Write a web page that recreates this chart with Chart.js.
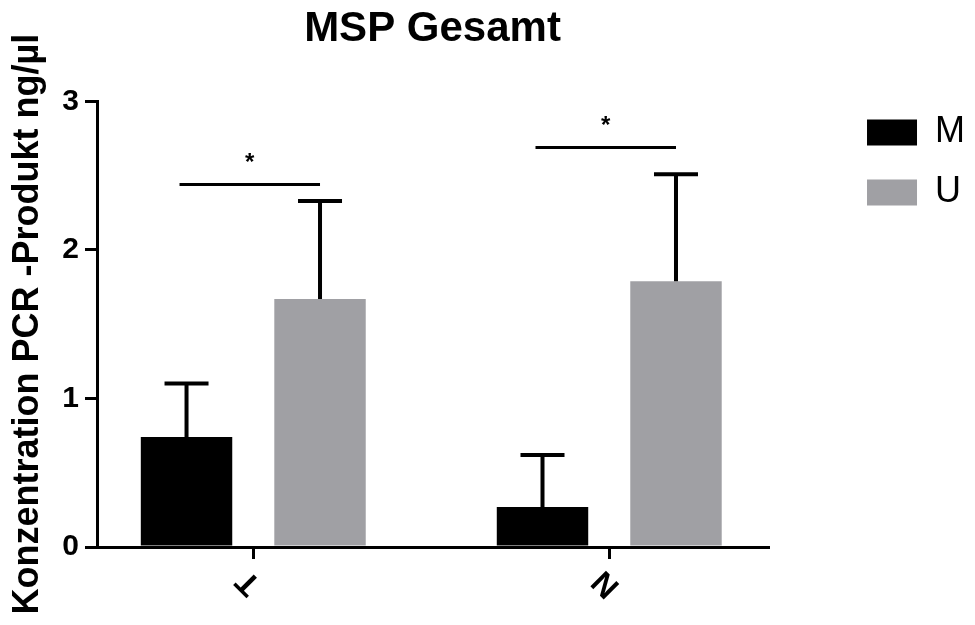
<!DOCTYPE html>
<html>
<head>
<meta charset="utf-8">
<script src="https://cdn.jsdelivr.net/npm/chart.js@4"></script>
<style>
  html, body { margin: 0; padding: 0; background: #fff; }
  canvas { display: block; }
</style>
</head>
<body>
<canvas id="chart" width="975" height="625"></canvas>
<script>
const categories = ['T', 'N'];
const seriesNames = ['M', 'U'];
const meanM = [0.74, 0.27];
const meanU = [1.67, 1.79];
const errTopM = [1.10, 0.62];   // upper end of error bar (mean + SD)
const errTopU = [2.33, 2.51];
const sigLevel = [2.44, 2.69];  // height of significance line per group
const sigLabel = ['*', '*'];
const yTicks = [0, 1, 2, 3];

const FONT = "'Liberation Sans', Arial, sans-serif";

// error bars + significance lines, drawn through the chart scales
const annotate = {
  id: 'annotate',
  afterDatasetsDraw(chart) {
    const { ctx } = chart;
    const y = chart.scales.y;
    const tops = [errTopM, errTopU];
    const means = [meanM, meanU];
    ctx.save();
    ctx.strokeStyle = '#000';
    ctx.lineCap = 'butt';
    chart.data.datasets.forEach((ds, d) => {
      const meta = chart.getDatasetMeta(d);
      meta.data.forEach((bar, i) => {
        const y0 = y.getPixelForValue(means[d][i]);
        const y1 = y.getPixelForValue(tops[d][i]);
        ctx.lineWidth = 4;
        ctx.beginPath();
        ctx.moveTo(bar.x, y0);
        ctx.lineTo(bar.x, y1);
        ctx.moveTo(bar.x - 22, y1);
        ctx.lineTo(bar.x + 22, y1);
        ctx.stroke();
      });
    });
    const mBars = chart.getDatasetMeta(0).data;
    const uBars = chart.getDatasetMeta(1).data;
    categories.forEach((c, i) => {
      const ly = y.getPixelForValue(sigLevel[i]);
      const x0 = mBars[i].x - 7;
      const x1 = uBars[i].x;
      ctx.lineWidth = 3;
      ctx.beginPath();
      ctx.moveTo(x0, ly);
      ctx.lineTo(x1, ly);
      ctx.stroke();
      ctx.fillStyle = '#000';
      ctx.font = 'bold 24px ' + FONT;
      ctx.textAlign = 'center';
      ctx.textBaseline = 'middle';
      ctx.fillText(sigLabel[i], (x0 + x1) / 2, ly - 21);
    });
    ctx.restore();
  }
};

new Chart(document.getElementById('chart'), {
  type: 'bar',
  data: {
    datasets: [
      {
        label: seriesNames[0],
        data: categories.map((c, i) => ({ x: i, y: meanM[i] })),
        backgroundColor: '#000000',
        borderWidth: 0
      },
      {
        label: seriesNames[1],
        data: categories.map((c, i) => ({ x: i, y: meanU[i] })),
        backgroundColor: '#a0a0a4',
        borderWidth: 0
      }
    ]
  },
  options: {
    responsive: false,
    animation: false,
    categoryPercentage: 0.75,
    barPercentage: 0.685,
    layout: { padding: { left: 0, right: 0, top: 0, bottom: 0 } },
    plugins: {
      tooltip: { enabled: false },
      title: {
        display: true,
        text: 'MSP Gesamt',
        fullSize: false,
        color: '#000',
        font: { family: FONT, size: 42, weight: 'bold' },
        padding: { top: 4, bottom: 47 }
      },
      legend: {
        position: 'right',
        align: 'start',
        title: { display: true, text: '', font: { size: 12 }, padding: { top: 76, bottom: 0 } },
        labels: {
          boxWidth: 50,
          boxHeight: 26,
          padding: 24,
          color: '#000',
          font: { family: FONT, size: 36 }
        }
      }
    },
    scales: {
      x: {
        type: 'linear',
        offset: false,
        min: -0.439,
        max: 1.446,
        afterBuildTicks: (s) => { s.ticks = categories.map((c, i) => ({ value: i })); },
        afterFit: (s) => { s.height = 78; },
        ticks: {
          autoSkip: false,
          minRotation: 135,
          maxRotation: 135,
          labelOffset: -11,
          padding: 30,
          color: '#000',
          font: { family: FONT, size: 32, weight: 'bold' },
          callback: (v) => categories[v]
        },
        grid: { offset: false, drawOnChartArea: false, drawTicks: true, tickLength: 12, color: '#000', lineWidth: 3 },
        border: { display: true, color: '#000', width: 3 }
      },
      y: {
        min: 0,
        max: 3,
        afterBuildTicks: (s) => { s.ticks = yTicks.map(v => ({ value: v })); },
        afterFit: (s) => { s.width = 97; },
        ticks: {
          padding: 6,
          color: '#000',
          font: { family: FONT, size: 30, weight: 'bold' }
        },
        grid: { drawOnChartArea: false, drawTicks: true, tickLength: 12, color: '#000', lineWidth: 3 },
        border: { display: true, color: '#000', width: 3 },
        title: {
          display: true,
          text: 'Konzentration PCR -Produkt ng/µl',
          color: '#000',
          font: { family: FONT, size: 36, weight: 'bold' },
          padding: { top: 6, bottom: 0 }
        }
      },
      pad: {
        axis: 'y',
        position: 'right',
        display: true,
        ticks: { display: false },
        grid: { display: false },
        border: { display: false },
        afterFit: (s) => { s.width = 75; }
      }
    }
  },
  plugins: [annotate]
});
</script>
</body>
</html>
